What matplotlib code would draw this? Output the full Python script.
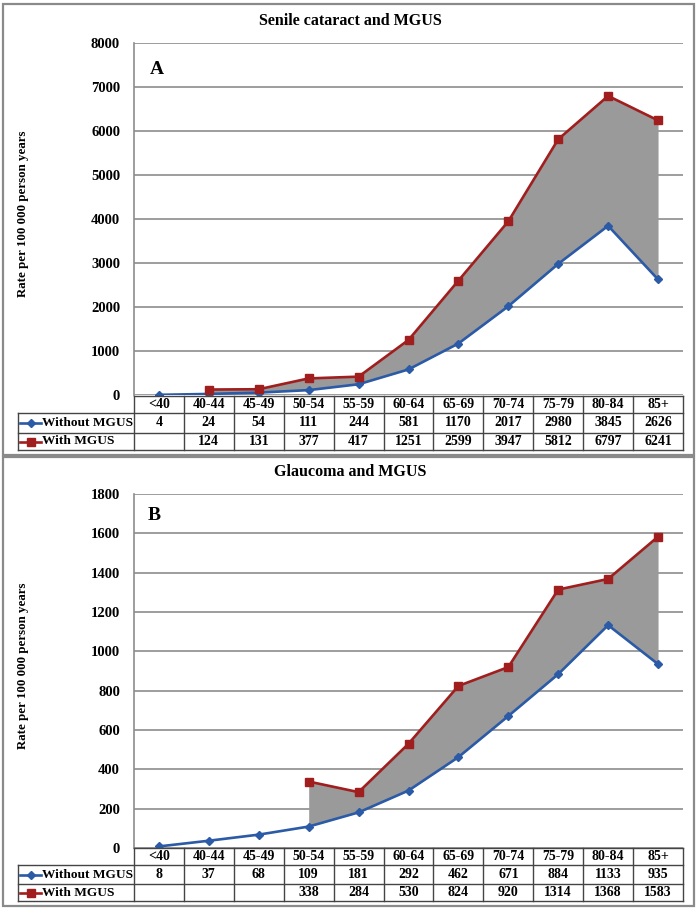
import numpy as np
import matplotlib
matplotlib.use("Agg")
import matplotlib.pyplot as plt
from matplotlib.patches import Rectangle

categories = ["<40", "40-44", "45-49", "50-54", "55-59", "60-64", "65-69", "70-74", "75-79", "80-84", "85+"]

cat_without = [4, 24, 54, 111, 244, 581, 1170, 2017, 2980, 3845, 2626]
cat_with = [None, 124, 131, 377, 417, 1251, 2599, 3947, 5812, 6797, 6241]

gla_without = [8, 37, 68, 109, 181, 292, 462, 671, 884, 1133, 935]
gla_with = [None, None, None, 338, 284, 530, 824, 920, 1314, 1368, 1583]

series_names = ["Without MGUS", "With MGUS"]
titles = ["Senile cataract and MGUS", "Glaucoma and MGUS"]
panel_letters = ["A", "B"]
ylabel = "Rate per 100 000 person years"

BLUE = "#2B5AA6"
RED = "#A01E1E"
FILL = "#9A9A9A"
GRID = "#8C8C8C"
FONT = "Liberation Serif"

W, H = 700, 911
fig = plt.figure(figsize=(W / 100, H / 100), dpi=100)
plt.rcParams["font.family"] = FONT
plt.rcParams["font.weight"] = "bold"


def px_axes(x0, y0, x1, y1, **kw):
    return fig.add_axes([x0 / W, 1 - y1 / H, (x1 - x0) / W, (y1 - y0) / H], **kw)


def to_arr(v):
    return np.array([np.nan if x is None else x for x in v], dtype=float)


panels = [
    dict(without=cat_without, with_=cat_with, ymax=8000, step=1000,
         plot=(134, 43, 683, 395), rows=(396, 413, 433, 450),
         border=(3, 4, 694, 455), title_y=21, letter=(150, 70), ylab_y=214),
    dict(without=gla_without, with_=gla_with, ymax=1800, step=200,
         plot=(134, 494, 683, 848), rows=(848, 865, 884, 901),
         border=(3, 457, 694, 906), title_y=472, letter=(148, 516), ylab_y=666),
]

n = len(categories)
xs = np.arange(n)
tbl_left = 18

for i, p in enumerate(panels):
    x0, y0, x1, y1 = p["plot"]
    ax = px_axes(x0, y0, x1, y1)
    ax.set_xlim(-0.5, n - 0.5)
    ax.set_ylim(0, p["ymax"])
    wo = to_arr(p["without"])
    wi = to_arr(p["with_"])
    mask = ~np.isnan(wi)
    ax.fill_between(xs, wo, np.where(mask, wi, wo), where=mask, color=FILL, lw=0, zorder=1)
    ax.plot(xs, wo, color=BLUE, lw=1.9, marker="D", ms=4, zorder=3)
    ax.plot(xs, wi, color=RED, lw=1.9, marker="s", ms=6, zorder=3)
    ticks = np.arange(0, p["ymax"] + 1, p["step"])
    ax.set_yticks(ticks)
    ax.set_yticklabels([str(v) for v in ticks], fontsize=10.5, fontweight="bold", fontfamily=FONT)
    ax.tick_params(axis="y", length=0, pad=10)
    ax.set_xticks([])
    ax.grid(axis="y", color=GRID, lw=1.2, zorder=0)
    ax.set_axisbelow(True)
    for s in ["top", "right", "bottom"]:
        ax.spines[s].set_visible(False)
    ax.spines["left"].set_color(GRID)
    ax.spines["left"].set_linewidth(1.2)

    fig.text(p["letter"][0] / W, 1 - p["letter"][1] / H, panel_letters[i],
             fontsize=14, fontweight="bold", fontfamily=FONT, va="center", ha="left")
    fig.text(350 / W, 1 - p["title_y"] / H, titles[i], fontsize=11.5, fontweight="bold",
             fontfamily=FONT, ha="center", va="center")
    fig.text(23 / W, 1 - p["ylab_y"] / H, ylabel, rotation=90, fontsize=9.3,
             fontweight="bold", fontfamily=FONT, ha="center", va="center")

    # table
    r0, r1, r2, r3 = p["rows"]
    colw = (x1 - x0) / n
    tax = px_axes(tbl_left, r0, x1, r3)
    xl = -0.5 - (x0 - tbl_left) / colw
    tax.set_xlim(xl, n - 0.5)
    tax.set_ylim(r3, r0)
    tax.axis("off")
    lc = "#444444"
    lw = 1.0
    tax.plot([-0.5, n - 0.5], [r0, r0], color=lc, lw=lw, clip_on=False)
    for yy in (r1, r2, r3):
        tax.plot([xl, n - 0.5], [yy, yy], color=lc, lw=lw, clip_on=False)
    for k in range(n + 1):
        tax.plot([k - 0.5, k - 0.5], [r0, r3], color=lc, lw=lw, clip_on=False)
    tax.plot([xl, xl], [r1, r3], color=lc, lw=lw, clip_on=False)
    for k, c in enumerate(categories):
        tax.text(k, (r0 + r1) / 2, c, ha="center", va="center", fontsize=10,
                 fontweight="bold", fontfamily=FONT)
    for row_vals, (ya, yb) in zip([p["without"], p["with_"]], [(r1, r2), (r2, r3)]):
        for k, v in enumerate(row_vals):
            if v is not None:
                tax.text(k, (ya + yb) / 2, str(v), ha="center", va="center", fontsize=10,
                         fontweight="bold", fontfamily=FONT)
    for (ya, yb), name, col, mk, ms in zip([(r1, r2), (r2, r3)], series_names,
                                           [BLUE, RED], ["D", "s"], [4, 6]):
        ym = (ya + yb) / 2
        lx0 = xl + 2 / colw
        lx1 = xl + 23 / colw
        tax.plot([lx0, lx1], [ym, ym], color=col, lw=1.9, clip_on=False)
        tax.plot([(lx0 + lx1) / 2], [ym], color=col, marker=mk, ms=ms, clip_on=False)
        tax.text(xl + 24 / colw, ym, name, ha="left", va="center", fontsize=9.6,
                 fontweight="bold", fontfamily=FONT)

    bx0, by0, bx1, by1 = p["border"]
    fig.patches.append(Rectangle((bx0 / W, 1 - by1 / H), (bx1 - bx0) / W, (by1 - by0) / H,
                                 transform=fig.transFigure, fill=False,
                                 edgecolor="#8A8A8A", lw=1.6))

fig.savefig("out.png", dpi=100)
